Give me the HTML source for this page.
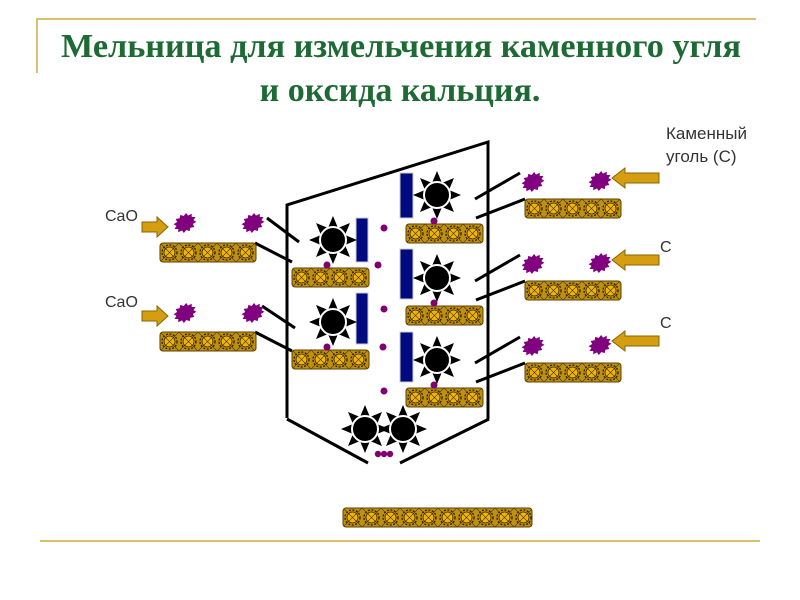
<!DOCTYPE html>
<html><head><meta charset="utf-8"><style>
html,body{margin:0;padding:0;background:#fff;width:800px;height:600px;overflow:hidden}
</style></head><body>
<svg width="800" height="600" viewBox="0 0 800 600" xmlns="http://www.w3.org/2000/svg">
<defs>
<pattern id="belt" width="19" height="19" patternUnits="userSpaceOnUse" x="0" y="0">
<rect width="19" height="19" fill="#c0900a"/>
<circle cx="9.5" cy="9.5" r="7.5" fill="none" stroke="#2a1e00" stroke-width="1.3" stroke-dasharray="2 1.5"/>
<circle cx="9.5" cy="9.5" r="5.5" fill="#f0b400" stroke="#3a2a00" stroke-width="0.8"/>
<path d="M0 0L19 19M19 0L0 19" stroke="#3a2a00" stroke-width="0.6"/>
</pattern>
<g id="star">
<g fill="#000">
<polygon points="-5,-12 5,-12 0,-24"/>
<polygon points="-5,-12 5,-12 0,-24" transform="rotate(45)"/>
<polygon points="-5,-12 5,-12 0,-24" transform="rotate(90)"/>
<polygon points="-5,-12 5,-12 0,-24" transform="rotate(135)"/>
<polygon points="-5,-12 5,-12 0,-24" transform="rotate(180)"/>
<polygon points="-5,-12 5,-12 0,-24" transform="rotate(225)"/>
<polygon points="-5,-12 5,-12 0,-24" transform="rotate(270)"/>
<polygon points="-5,-12 5,-12 0,-24" transform="rotate(315)"/>
</g>
<circle r="13" fill="#000" stroke="#fff" stroke-width="2"/>
</g>
<g id="p">
<polygon transform="rotate(-30) scale(1.1,0.85)" fill="#800080" points="11,0 8,2.1 9.53,5.5 5.7,5.7 5.5,9.53 2.1,8 0,11 -2.1,8 -5.5,9.53 -5.7,5.7 -9.53,5.5 -8,2.1 -11,0 -8,-2.1 -9.53,-5.5 -5.7,-5.7 -5.5,-9.53 -2.1,-8 0,-11 2.1,-8 5.5,-9.53 5.7,-5.7 9.53,-5.5 8,-2.1"/>
</g>
<polygon id="al" points="142,-5 157,-5 157,-10 168,0 157,10 157,5 142,5" fill="#d49e10" stroke="#8a6400" stroke-width="1"/>
<polygon id="ar" points="659,-5 625,-5 625,-10 612,0 625,10 625,5 659,5" fill="#d49e10" stroke="#8a6400" stroke-width="1"/>
<rect id="b96" x="0" y="0" width="96" height="19" rx="3" fill="url(#belt)" stroke="#5a4000"/>
<rect id="b77" x="0" y="0" width="77" height="19" rx="3" fill="url(#belt)" stroke="#5a4000"/>
<rect id="b189" x="0" y="0" width="189" height="19" rx="3" fill="url(#belt)" stroke="#5a4000"/>
</defs>

<line x1="36" y1="19" x2="756" y2="19" stroke="#d8c070" stroke-width="2"/>
<line x1="37" y1="19" x2="37" y2="73" stroke="#d8c070" stroke-width="2"/>
<line x1="40" y1="541" x2="760" y2="541" stroke="#d8c070" stroke-width="2"/>

<text x="401" y="57" text-anchor="middle" font-family="Liberation Serif, serif" font-weight="bold" font-size="34" textLength="680" lengthAdjust="spacingAndGlyphs" fill="#1e6a35">Мельница для измельчения каменного угля</text>
<text x="400" y="101" text-anchor="middle" font-family="Liberation Serif, serif" font-weight="bold" font-size="34" fill="#1e6a35">и оксида кальция.</text>

<g font-family="Liberation Sans, sans-serif" font-size="16" fill="#333">
<text x="105" y="221">CaO</text>
<text x="105" y="307">CaO</text>
<text x="666" y="139" font-size="17">Каменный</text>
<text x="666" y="162" font-size="17">уголь (С)</text>
<text x="660" y="252">С</text>
<text x="660" y="328">С</text>
</g>

<g stroke="#000" stroke-width="3" fill="none">
<polyline points="287,418 287,205 488,142 488,419"/>
<line x1="287" y1="419" x2="368" y2="463"/>
<line x1="489" y1="419" x2="400" y2="463"/>
<line x1="267" y1="218" x2="299" y2="242"/>
<line x1="255" y1="243" x2="292" y2="262"/>
<line x1="262" y1="306" x2="295" y2="328"/>
<line x1="255" y1="332" x2="292" y2="351"/>
<line x1="475" y1="199" x2="520" y2="173"/>
<line x1="476" y1="218" x2="525" y2="199"/>
<line x1="475" y1="281" x2="520" y2="255"/>
<line x1="476" y1="300" x2="525" y2="281"/>
<line x1="475" y1="363" x2="520" y2="337"/>
<line x1="476" y1="382" x2="525" y2="363"/>
</g>

<use href="#b96" x="160" y="243"/>
<use href="#b96" x="160" y="332"/>
<use href="#b77" x="292" y="268"/>
<use href="#b77" x="292" y="350"/>
<use href="#b77" x="406" y="224"/>
<use href="#b77" x="406" y="306"/>
<use href="#b77" x="406" y="388"/>
<use href="#b96" x="525" y="199"/>
<use href="#b96" x="525" y="281"/>
<use href="#b96" x="525" y="363"/>
<use href="#b189" x="343" y="508"/>

<g fill="#000a80" stroke="#ccc" stroke-width="1">
<rect x="356" y="218" width="12" height="44"/>
<rect x="356" y="293" width="12" height="51"/>
<rect x="400" y="173" width="13" height="45"/>
<rect x="400" y="249" width="13" height="50"/>
<rect x="400" y="332" width="13" height="50"/>
</g>

<use href="#star" x="333" y="240"/>
<use href="#star" x="333" y="322"/>
<use href="#star" x="437" y="195"/>
<use href="#star" x="437" y="278"/>
<use href="#star" x="437" y="360"/>
<use href="#star" x="365" y="429"/>
<use href="#star" x="403" y="429"/>

<use href="#p" x="185" y="223"/>
<use href="#p" x="253" y="223"/>
<use href="#p" x="185" y="313"/>
<use href="#p" x="253" y="313"/>
<use href="#p" x="533" y="182"/>
<use href="#p" x="600" y="181"/>
<use href="#p" x="533" y="264"/>
<use href="#p" x="600" y="263"/>
<use href="#p" x="533" y="346"/>
<use href="#p" x="600" y="345"/>

<g fill="#800070">
<circle cx="384" cy="228" r="3.5"/>
<circle cx="378" cy="265" r="3.5"/>
<circle cx="384" cy="309" r="3.5"/>
<circle cx="383" cy="347" r="3.5"/>
<circle cx="384" cy="391" r="3.5"/>
<circle cx="327" cy="265" r="3.5"/>
<circle cx="327" cy="347" r="3.5"/>
<circle cx="434" cy="221" r="3.5"/>
<circle cx="434" cy="303" r="3.5"/>
<circle cx="434" cy="385" r="3.5"/>
<circle cx="378" cy="454" r="3.2"/>
<circle cx="384" cy="454" r="3.2"/>
<circle cx="390" cy="454" r="3.2"/>
</g>

<use href="#al" y="227"/>
<use href="#al" y="316"/>
<use href="#ar" y="178"/>
<use href="#ar" y="260"/>
<use href="#ar" y="341"/>
</svg>
</body></html>
